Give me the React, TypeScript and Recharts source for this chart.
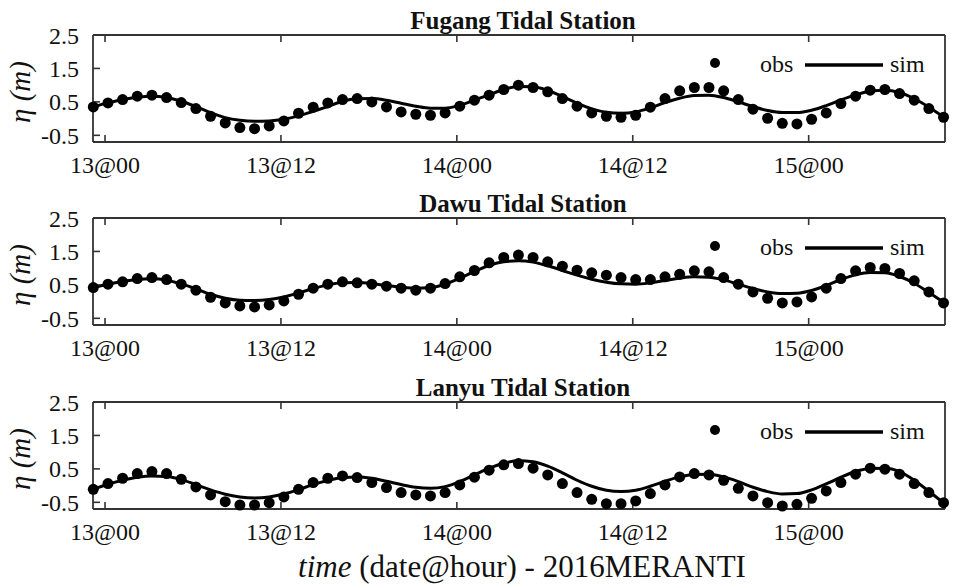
import { ComposedChart, Legend, Line, XAxis, YAxis } from 'recharts';

// hours counted from 13@00 (one obs every hour)
const hours = [
  -0.8, 0.2, 1.2, 2.2, 3.2, 4.2, 5.2, 6.2, 7.2, 8.2,
  9.2, 10.2, 11.2, 12.2, 13.2, 14.2, 15.2, 16.2, 17.2, 18.2,
  19.2, 20.2, 21.2, 22.2, 23.2, 24.2, 25.2, 26.2, 27.2, 28.2,
  29.2, 30.2, 31.2, 32.2, 33.2, 34.2, 35.2, 36.2, 37.2, 38.2,
  39.2, 40.2, 41.2, 42.2, 43.2, 44.2, 45.2, 46.2, 47.2, 48.2,
  49.2, 50.2, 51.2, 52.2, 53.2, 54.2, 55.2, 56.2, 57.2
];
const tickHours = [0, 12, 24, 36, 48];
const tickLabels = ['13@00', '13@12', '14@00', '14@12', '15@00'];
const yTicks = [-0.5, 0.5, 1.5, 2.5];

const fugangObs = [
  0.35, 0.47, 0.57, 0.67, 0.70, 0.63, 0.48, 0.30, 0.07, -0.13,
  -0.27, -0.30, -0.22, -0.07, 0.16, 0.34, 0.47, 0.57, 0.60, 0.50,
  0.35, 0.20, 0.13, 0.10, 0.17, 0.37, 0.55, 0.70, 0.87, 1.00,
  0.93, 0.80, 0.60, 0.37, 0.17, 0.07, 0.04, 0.10, 0.34, 0.60,
  0.83, 0.93, 0.93, 0.83, 0.57, 0.28, 0.01, -0.14, -0.16, -0.02,
  0.17, 0.45, 0.67, 0.85, 0.87, 0.75, 0.55, 0.30, 0.04
];
const fugangSim = [
  0.35, 0.47, 0.57, 0.64, 0.67, 0.63, 0.52, 0.36, 0.18, 0.03,
  -0.05, -0.08, -0.07, -0.02, 0.08, 0.22, 0.36, 0.52, 0.59, 0.60,
  0.55, 0.46, 0.37, 0.31, 0.31, 0.40, 0.55, 0.71, 0.87, 0.96,
  0.95, 0.84, 0.66, 0.46, 0.29, 0.19, 0.16, 0.20, 0.32, 0.48,
  0.61, 0.69, 0.70, 0.63, 0.50, 0.36, 0.24, 0.18, 0.18, 0.25,
  0.39, 0.56, 0.71, 0.82, 0.85, 0.78, 0.60, 0.34, 0.05
];
const dawuObs = [
  0.42, 0.52, 0.59, 0.69, 0.72, 0.66, 0.52, 0.34, 0.13, -0.04,
  -0.13, -0.16, -0.10, 0.02, 0.22, 0.40, 0.52, 0.59, 0.56, 0.52,
  0.46, 0.40, 0.34, 0.40, 0.54, 0.74, 0.93, 1.16, 1.32, 1.39,
  1.32, 1.19, 1.06, 0.94, 0.86, 0.79, 0.72, 0.66, 0.66, 0.74,
  0.82, 0.92, 0.89, 0.72, 0.52, 0.29, 0.10, -0.04, -0.01, 0.14,
  0.40, 0.69, 0.92, 1.02, 0.99, 0.84, 0.62, 0.29, -0.04
];
const dawuSim = [
  0.42, 0.52, 0.60, 0.66, 0.68, 0.64, 0.53, 0.38, 0.22, 0.10,
  0.04, 0.03, 0.06, 0.14, 0.26, 0.39, 0.50, 0.56, 0.57, 0.54,
  0.48, 0.43, 0.40, 0.42, 0.52, 0.70, 0.90, 1.08, 1.19, 1.22,
  1.18, 1.07, 0.93, 0.79, 0.67, 0.58, 0.53, 0.52, 0.56, 0.63,
  0.70, 0.74, 0.73, 0.65, 0.52, 0.39, 0.29, 0.24, 0.25, 0.33,
  0.48, 0.66, 0.80, 0.87, 0.86, 0.75, 0.55, 0.27, -0.02
];
const lanyuObs = [
  -0.11, 0.06, 0.22, 0.36, 0.42, 0.36, 0.19, -0.04, -0.28, -0.48,
  -0.58, -0.58, -0.51, -0.34, -0.11, 0.09, 0.22, 0.29, 0.24, 0.09,
  -0.06, -0.21, -0.28, -0.31, -0.21, 0.02, 0.25, 0.46, 0.62, 0.66,
  0.52, 0.32, 0.06, -0.21, -0.41, -0.54, -0.54, -0.46, -0.24, 0.02,
  0.26, 0.36, 0.32, 0.16, -0.08, -0.31, -0.51, -0.61, -0.56, -0.38,
  -0.16, 0.09, 0.34, 0.52, 0.49, 0.34, 0.06, -0.21, -0.51
];
const lanyuSim = [
  -0.11, 0.04, 0.16, 0.25, 0.29, 0.27, 0.18, 0.03, -0.13, -0.26,
  -0.34, -0.37, -0.34, -0.25, -0.12, 0.03, 0.15, 0.24, 0.26, 0.22,
  0.13, 0.03, -0.05, -0.08, -0.03, 0.12, 0.32, 0.52, 0.67, 0.74,
  0.71, 0.58, 0.38, 0.16, -0.02, -0.14, -0.18, -0.14, -0.02, 0.13,
  0.26, 0.33, 0.34, 0.26, 0.12, -0.05, -0.18, -0.25, -0.24, -0.13,
  0.05, 0.25, 0.42, 0.51, 0.52, 0.42, 0.16, -0.17, -0.52
];

const stations = [
  { title: 'Fugang Tidal Station', obs: fugangObs, sim: fugangSim },
  { title: 'Dawu Tidal Station', obs: dawuObs, sim: dawuSim },
  { title: 'Lanyu Tidal Station', obs: lanyuObs, sim: lanyuSim }
];

const FONT = '"Liberation Serif", "Times New Roman", serif';
const INK = '#111';
const AXIS = '#333';
const W = 953;
const H = 588;
const PANEL_H = 184;
const BOX_TOP = 35;
const BOX_H = 107;
const panelTops = [0, 183, 367];

const fmtHour = (v: number) => tickLabels[tickHours.indexOf(v)] ?? '';
const blank = () => '';

function StationLegend(props: any) {
  const entries: any[] = props.payload ?? [];
  const obs = entries.find((e) => e.dataKey === 'obs');
  const sim = entries.find((e) => e.dataKey === 'sim');
  const txt = { fontFamily: FONT, fontSize: 24, fill: INK };
  return (
    <svg width={230} height={26} style={{ display: 'block', overflow: 'visible' }}>
      {obs && (
        <g>
          <circle cx={10} cy={12} r={5} fill='#000' />
          <text x={55} y={21} {...txt}>{obs.value}</text>
        </g>
      )}
      {sim && (
        <g>
          <line x1={100} x2={178} y1={14} y2={14} stroke='#000' strokeWidth={3.5} />
          <text x={185} y={21} {...txt}>{sim.value}</text>
        </g>
      )}
    </svg>
  );
}

function StationPanel({ obs, sim, top }: { obs: number[]; sim: number[]; top: number }) {
  const rows = hours.map((t, i) => ({ t, obs: obs[i], sim: sim[i] }));
  // axes are 1px thick so recharts still draws them; margins take the rest
  const axisCommon = {
    stroke: AXIS,
    strokeWidth: 1.8,
    tickSize: -7,
    tickLine: { stroke: AXIS, strokeWidth: 1.6 }
  };
  const tickStyle = { fill: INK, fontSize: 24, fontFamily: FONT };

  return (
    <div style={{ position: 'absolute', left: 0, top }}>
      <ComposedChart
        width={W}
        height={PANEL_H}
        data={rows}
        margin={{ top: BOX_TOP - 1, right: 7, bottom: PANEL_H - BOX_TOP - BOX_H - 1, left: 92 }}
      >
        <XAxis
          xAxisId='b'
          dataKey='t'
          type='number'
          domain={[-0.82, 57.3]}
          ticks={tickHours}
          interval={0}
          tickFormatter={fmtHour}
          height={1}
          tickMargin={21}
          tick={tickStyle}
          {...axisCommon}
        />
        <XAxis
          xAxisId='t'
          dataKey='t'
          type='number'
          orientation='top'
          domain={[-0.82, 57.3]}
          ticks={tickHours}
          interval={0}
          tickFormatter={blank}
          height={1}
          {...axisCommon}
        />
        <YAxis
          yAxisId='l'
          type='number'
          domain={[-0.7, 2.5]}
          ticks={yTicks}
          interval={0}
          width={1}
          tickMargin={21}
          tick={tickStyle}
          {...axisCommon}
        />
        <YAxis
          yAxisId='r'
          type='number'
          orientation='right'
          domain={[-0.7, 2.5]}
          ticks={yTicks}
          interval={0}
          width={1}
          tickFormatter={blank}
          {...axisCommon}
        />
        <Line
          xAxisId='b'
          yAxisId='l'
          name='sim'
          dataKey='sim'
          type='monotone'
          stroke='#000'
          strokeWidth={3}
          dot={false}
          legendType='line'
          isAnimationActive={false}
        />
        <Line
          xAxisId='b'
          yAxisId='l'
          name='obs'
          dataKey='obs'
          stroke='none'
          strokeWidth={0}
          dot={{ r: 5.5, fill: '#000', stroke: 'none' }}
          activeDot={false}
          legendType='circle'
          isAnimationActive={false}
        />
        <Legend
          layout='horizontal'
          verticalAlign='middle'
          align='center'
          wrapperStyle={{ left: 705, top: 51, width: 230, height: 26 }}
          content={StationLegend}
        />
      </ComposedChart>
    </div>
  );
}

export default function App() {
  return (
    <div style={{ position: 'absolute', left: 0, top: 0, width: W, height: H, background: '#fff' }}>
      {stations.map((s, i) => (
        <StationPanel key={s.title} obs={s.obs} sim={s.sim} top={panelTops[i]} />
      ))}
      <svg width={W} height={H} style={{ position: 'absolute', left: 0, top: 0, pointerEvents: 'none' }}>
        {stations.map((s, i) => (
          <g key={s.title}>
            <text
              x={523}
              y={panelTops[i] + BOX_TOP - 6.5}
              textAnchor='middle'
              fontFamily={FONT}
              fontWeight='bold'
              fontSize={25}
              fill={INK}
            >
              {s.title}
            </text>
            <text
              transform={`translate(21, ${panelTops[i] + BOX_TOP + 57}) rotate(-90)`}
              textAnchor='middle'
              dy='0.3em'
              fontFamily={FONT}
              fontStyle='italic'
              fontSize={29}
              fill={INK}
            >
              η (m)
            </text>
          </g>
        ))}
        <text x={522} y={577} textAnchor='middle' fontFamily={FONT} fontSize={31} fill={INK}>
          <tspan fontStyle='italic'>time</tspan> (date@hour) - 2016MERANTI
        </text>
      </svg>
    </div>
  );
}
